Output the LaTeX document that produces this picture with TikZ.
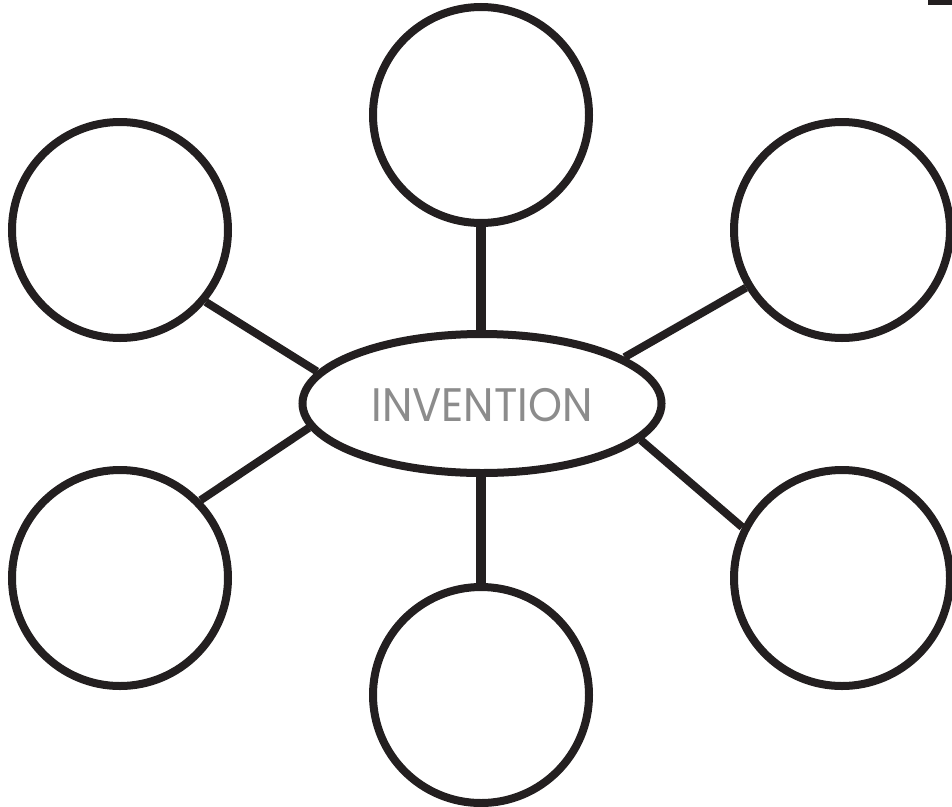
\documentclass[tikz,border=0pt]{standalone}
\usepackage{fontspec}
\setmainfont{Poppins}
\usetikzlibrary{shapes.geometric}
\definecolor{ink}{HTML}{231F20}
\definecolor{labelgray}{HTML}{8C8C8C}
\tikzset{
  bubble/.style={circle, draw=ink, line width=8pt, minimum size=216pt, inner sep=0pt},
  hub/.style={ellipse, draw=ink, line width=8pt, minimum width=359pt, minimum height=139pt, inner sep=0pt},
  spoke/.style={draw=ink, line width=8pt},
  vspoke/.style={draw=ink, line width=9.5pt}
}
\begin{document}
\begin{tikzpicture}[x=1pt, y=-1pt]
\useasboundingbox (0,0) rectangle (952,806);
\fill[ink] (928,0) rectangle (952,5);
\node[hub] (inv) at (482,403.5) {};
\node[text=labelgray, font=\fontsize{47}{47}\selectfont] (lbl) at (482,405) {\scalebox{0.92}[1]{INVENTION}};
\node[bubble] (top) at (481,115) {};
\node[bubble] (tl) at (120,230) {};
\node[bubble] (tr) at (842,230) {};
\node[bubble] (bl) at (120,578) {};
\node[bubble] (br) at (842,578) {};
\node[bubble] (bot) at (481,695) {};
\draw[vspoke] (top.south) -- (top.south |- inv.north);
\draw[vspoke] (bot.north) -- (bot.north |- inv.south);
\draw[spoke] (tl.-40) -- (inv.169);
\draw[spoke] (tr.-149) -- (inv.18);
\draw[spoke] (bl.44) -- (inv.-172);
\draw[spoke] (br.153) -- (inv.-13);
\end{tikzpicture}
\end{document}
